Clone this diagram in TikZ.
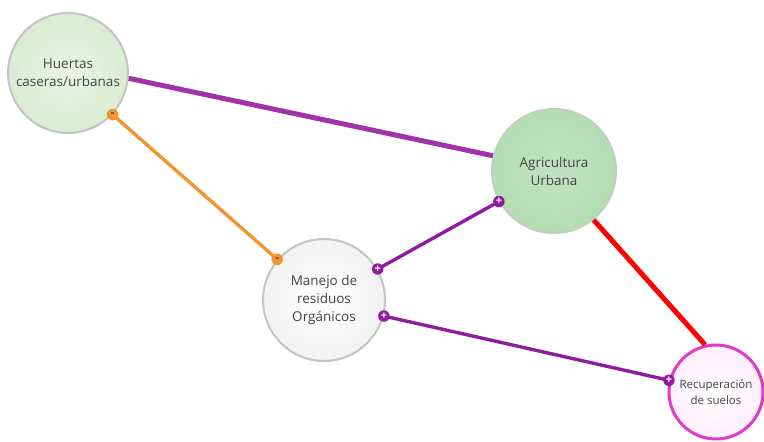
\documentclass[tikz,border=0pt]{standalone}
\usepackage{fontspec}
\setmainfont{Open Sans}
\definecolor{huertafill}{HTML}{D9EDD2}
\definecolor{agrifill}{HTML}{B5DEB4}
\definecolor{manejofill}{HTML}{F2F2F2}
\definecolor{grayborder}{HTML}{C4C4C4}
\definecolor{txt}{HTML}{444444}
\definecolor{purpleA}{HTML}{A232A8}
\definecolor{purpleB}{HTML}{8F1B9F}
\definecolor{orangeA}{HTML}{F0952F}
\definecolor{redA}{HTML}{FF0000}
\definecolor{magentaB}{HTML}{E03BC8}
\tikzset{
  concept/.style={circle, inner sep=0pt, align=center, text=txt,
    font=\fontsize{13.5}{18}\selectfont},
  plusmark/.style={circle, fill=purpleB, inner sep=0pt, minimum size=11.5pt,
    text=white, font=\fontsize{11}{11}\selectfont\bfseries},
  minusmark/.style={circle, fill=orangeA, inner sep=0pt, minimum size=11.5pt,
    text=black!75, font=\fontsize{11}{11}\selectfont\bfseries},
  linkthick/.style={line width=5pt},
  linkthin/.style={line width=3.4pt},
}
\begin{document}
\begin{tikzpicture}[x=1pt,y=-1pt]
\useasboundingbox (0,0) rectangle (764,442);
% nodes
\node[concept, minimum size=120pt, draw=grayborder, line width=2pt,
  inner color=huertafill!60!white, outer color=huertafill] (H) at (68,73)
  {Huertas\\caseras/urbanas};
\node[concept, minimum size=124pt, draw=agrifill!80!black!60, line width=2pt,
  inner color=agrifill!85!white, outer color=agrifill] (A) at (554,171)
  {Agricultura\\Urbana};
\node[concept, minimum size=122pt, draw=grayborder, line width=2pt,
  inner color=white, outer color=manejofill] (M) at (324,300)
  {Manejo de\\residuos\\Orgánicos};
\node[concept, minimum size=94pt, draw=magentaB, line width=3pt,
  inner color=white, outer color=magentaB!8, font=\fontsize{11.5}{16}\selectfont] (R) at (716,392)
  {Recuperación\\de suelos};
% connectors
\draw[linkthick, purpleA] (H.-5) -- (A.166);
\draw[linkthick, redA] (A.-51) -- (R.103);
\draw[linkthin, orangeA] (H.-43) -- (M.139);
\draw[linkthin, purpleB] (A.209) -- (M.30);
\draw[linkthin, purpleB] (M.-15) -- (R.166);
% markers
\node[minusmark] (m1) at (H.-43) {-};
\node[minusmark] (m2) at (M.139) {-};
\node[plusmark] (p1) at (A.209) {+};
\node[plusmark] (p2) at (M.30) {+};
\node[plusmark] (p3) at (M.-15) {+};
\node[plusmark] (p4) at (R.166) {+};
\end{tikzpicture}
\end{document}
